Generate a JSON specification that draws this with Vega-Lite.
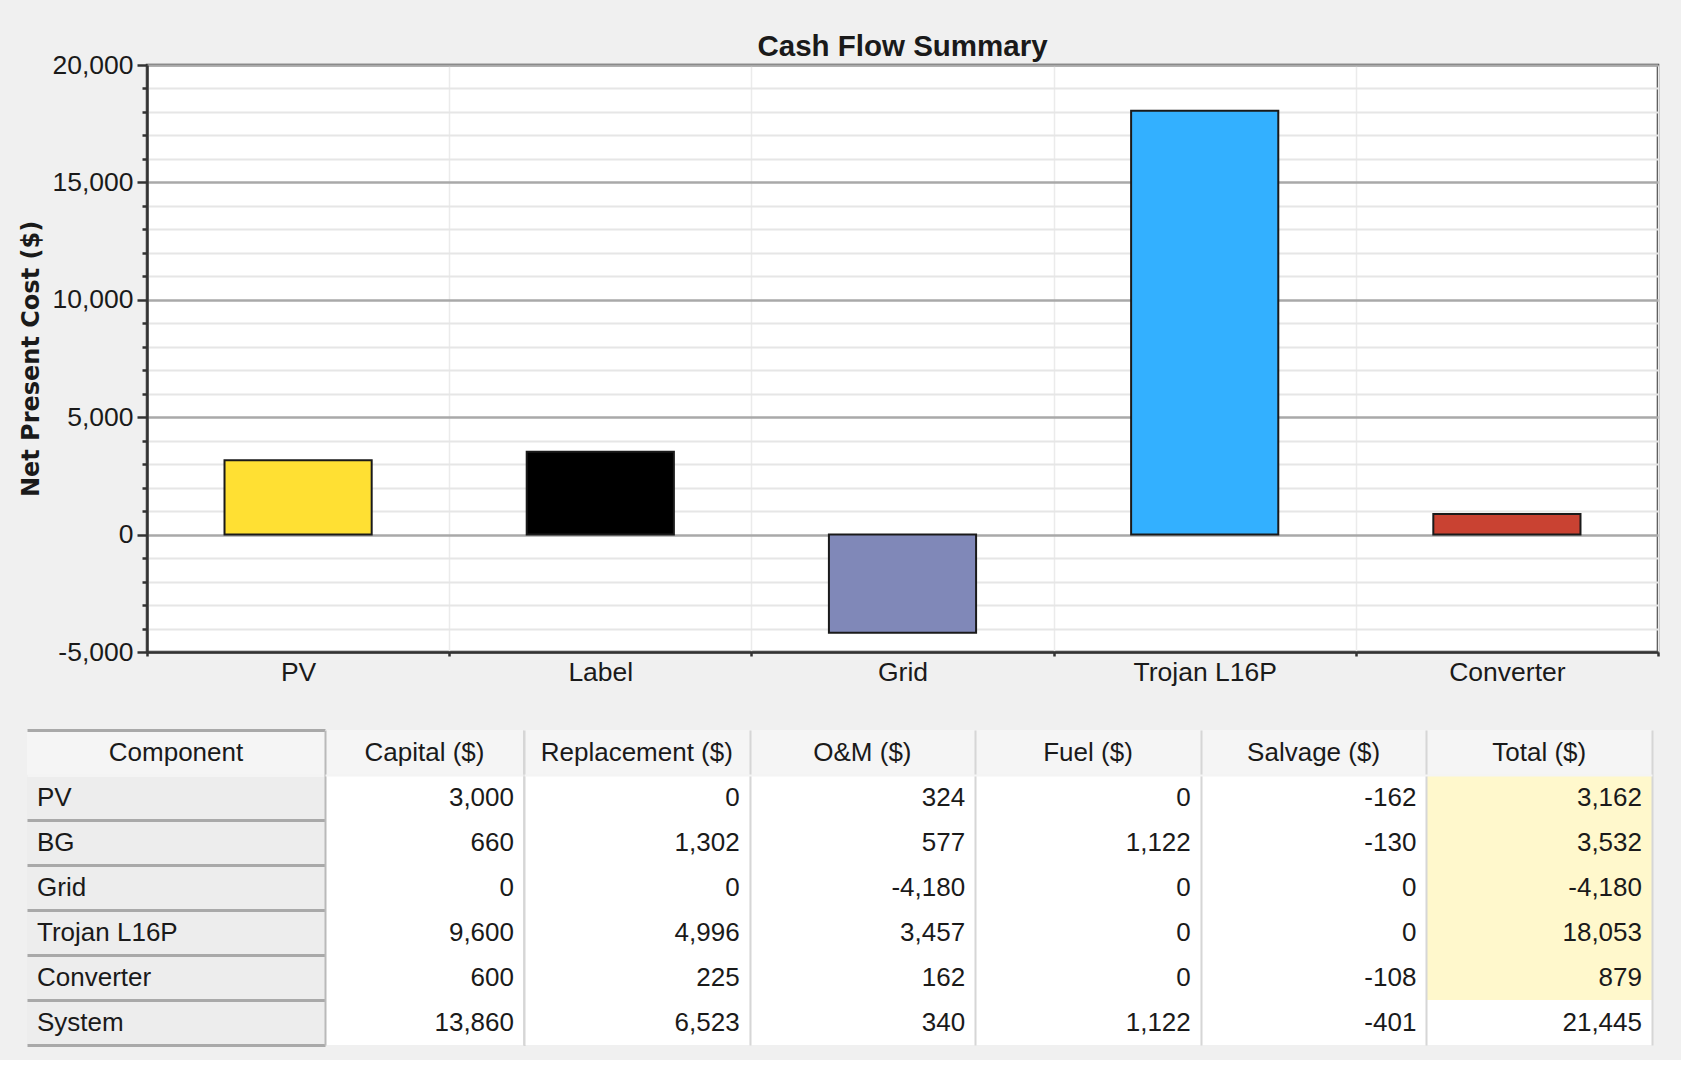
{
  "$schema": "https://vega.github.io/schema/vega-lite/v6.json",
  "background": "#f0f0f0",
  "padding": {"left": 18, "top": 30, "right": 20, "bottom": 15},
  "config": {
    "locale": {"number": {"decimal": ".", "thousands": ",", "grouping": [3], "currency": ["$", ""], "minus": "-"}},
    "font": "Liberation Sans, Arial, sans-serif"
  },
  "datasets": {
    "bars": [
      {"component": "PV", "npc": 3162},
      {"component": "Label", "npc": 3532},
      {"component": "Grid", "npc": -4180},
      {"component": "Trojan L16P", "npc": 18053},
      {"component": "Converter", "npc": 879}
    ],
    "table": [
      {"Component": "PV", "Capital ($)": 3000, "Replacement ($)": 0, "O&M ($)": 324, "Fuel ($)": 0, "Salvage ($)": -162, "Total ($)": 3162},
      {"Component": "BG", "Capital ($)": 660, "Replacement ($)": 1302, "O&M ($)": 577, "Fuel ($)": 1122, "Salvage ($)": -130, "Total ($)": 3532},
      {"Component": "Grid", "Capital ($)": 0, "Replacement ($)": 0, "O&M ($)": -4180, "Fuel ($)": 0, "Salvage ($)": 0, "Total ($)": -4180},
      {"Component": "Trojan L16P", "Capital ($)": 9600, "Replacement ($)": 4996, "O&M ($)": 3457, "Fuel ($)": 0, "Salvage ($)": 0, "Total ($)": 18053},
      {"Component": "Converter", "Capital ($)": 600, "Replacement ($)": 225, "O&M ($)": 162, "Fuel ($)": 0, "Salvage ($)": -108, "Total ($)": 879},
      {"Component": "System", "Capital ($)": 13860, "Replacement ($)": 6523, "O&M ($)": 340, "Fuel ($)": 1122, "Salvage ($)": -401, "Total ($)": 21445}
    ]
  },
  "spacing": 43,
  "vconcat": [
    {
      "spacing": -10,
      "hconcat": [
        {
          "width": 1, "height": 1,
          "view": {"fill": "#f0f0f0", "stroke": null},
          "data": {"values": []},
          "mark": "point"
        },
        {
          "width": 1511,
          "height": 587,
          "title": {"text": "Cash Flow Summary", "fontSize": 29.5, "fontWeight": "bold", "color": "#1a1a1a", "offset": -10, "frame": "group"},
          "view": {"fill": "white", "stroke": "#333333", "strokeWidth": 2.5},
          "data": {"name": "bars"},
          "mark": {"type": "bar", "stroke": "#1a1a1a", "strokeWidth": 2, "width": {"band": 0.487}},
          "encoding": {
            "x": {
              "field": "component", "type": "nominal", "sort": null,
              "scale": {"paddingInner": 0, "paddingOuter": 0},
              "axis": {"title": null, "labelAngle": 0, "labelFontSize": 26.5, "labelColor": "#1a1a1a", "labelPadding": 3,
                       "tickBand": "extent", "tickSize": 4, "tickColor": "#333333", "tickWidth": 2.5,
                       "domainColor": "#333333", "domainWidth": 2.5,
                       "grid": true, "gridColor": "#ebebeb", "gridWidth": 1.5}
            },
            "y": {
              "field": "npc", "type": "quantitative",
              "scale": {"domain": [-5000, 20000], "nice": false},
              "axis": {
                "title": "Net Present Cost ($)", "titleFont": "DejaVu Sans", "titleFontSize": 24, "titleFontWeight": "bold",
                "titleColor": "#1a1a1a", "titlePadding": 8,
                "values": [-5000, -4000, -3000, -2000, -1000, 0, 1000, 2000, 3000, 4000, 5000, 6000, 7000, 8000, 9000, 10000, 11000, 12000, 13000, 14000, 15000, 16000, 17000, 18000, 19000, 20000],
                "format": ",d",
                "labelExpr": "datum.value % 5000 === 0 ? datum.label : ''",
                "labelFontSize": 26.5, "labelColor": "#1a1a1a", "labelPadding": 4, "labelOverlap": false,
                "tickColor": "#333333", "tickWidth": 2.5,
                "tickSize": {"condition": {"test": "datum.value % 5000 === 0", "value": 10}, "value": 5},
                "domainColor": "#333333", "domainWidth": 2.5,
                "grid": true,
                "gridColor": {"condition": {"test": "datum.value % 5000 === 0", "value": "#a9a9a9"}, "value": "#e6e6e6"},
                "gridWidth": {"condition": {"test": "datum.value % 5000 === 0", "value": 2.5}, "value": 2}
              }
            },
            "color": {
              "field": "component", "type": "nominal",
              "scale": {"domain": ["PV", "Label", "Grid", "Trojan L16P", "Converter"],
                        "range": ["#ffe033", "#000000", "#8088b8", "#33b0ff", "#c94232"]},
              "legend": null
            }
          }
        }
      ]
    },
    {
      "spacing": 0,
      "hconcat": [
        {
          "width": 298,
          "height": 315,
          "view": {"stroke": null},
          "data": {"name": "table"},
          "transform": [{"fold": ["Component"], "as": ["col", "name"]}],
          "encoding": {
            "x": {"field": "col", "type": "nominal", "scale": {"paddingInner": 0, "paddingOuter": 0}, "axis": null},
            "y": {"field": "Component", "type": "nominal",
                  "scale": {"domain": ["header", "PV", "BG", "Grid", "Trojan L16P", "Converter", "System"], "paddingInner": 0, "paddingOuter": 0},
                  "axis": {"title": null, "tickBand": "extent", "grid": true, "ticks": false, "labels": false, "domain": false,
                           "minExtent": 0, "maxExtent": 0, "zindex": 1,
                           "gridColor": {"condition": {"test": "datum.value === 'header'", "value": "#f4f4f4"}, "value": "#a9a9a9"},
                           "gridWidth": 3}}
          },
          "layer": [
            {"mark": {"type": "rect", "color": "#ededed"}},
            {"mark": {"type": "text", "align": "left", "dx": 10, "fontSize": 26, "color": "#1a1a1a"},
             "encoding": {"x": {"field": "col", "type": "nominal", "bandPosition": 0}, "text": {"field": "name"}}},
            {"transform": [{"filter": "datum.Component === 'PV'"}],
             "mark": {"type": "rect", "color": "#f5f5f5"},
             "encoding": {"y": {"datum": "header"}}},
            {"transform": [{"filter": "datum.Component === 'PV'"}],
             "mark": {"type": "text", "align": "center", "fontSize": 26, "color": "#1a1a1a"},
             "encoding": {"y": {"datum": "header"}, "text": {"field": "col"}}}
          ]
        },
        {
          "width": 199,
          "height": 315,
          "view": {"stroke": null},
          "data": {"name": "table"},
          "transform": [{"fold": ["Capital ($)"], "as": ["col", "val"]}],
          "encoding": {
            "x": {"field": "col", "type": "nominal",
                  "scale": {"domain": ["Capital ($)"], "paddingInner": 0, "paddingOuter": 0},
                  "axis": {"title": null, "orient": "bottom", "tickBand": "extent", "grid": true, "ticks": false, "labels": false, "domain": false,
                           "minExtent": 0, "maxExtent": 0, "zindex": 1, "gridColor": "#b9b9b9", "gridWidth": 2}},
            "y": {"field": "Component", "type": "nominal",
                  "scale": {"domain": ["header", "PV", "BG", "Grid", "Trojan L16P", "Converter", "System"], "paddingInner": 0, "paddingOuter": 0},
                  "axis": {"title": null, "tickBand": "extent", "grid": true, "ticks": false, "labels": false, "domain": false,
                           "minExtent": 0, "maxExtent": 0, "zindex": 1,
                           "gridColor": {"condition": {"test": "datum.value === 'header'", "value": "#f4f4f4"}, "value": {"expr": "datum.value === 'PV' ? '#bcbcbc' : '#dddddd'"}},
                           "gridWidth": {"condition": {"test": "datum.value === 'PV'", "value": 3}, "value": 2}}}
          },
          "layer": [
            {"mark": {"type": "rect", "color": "#ffffff"}},
            {"mark": {"type": "text", "align": "right", "dx": -10, "fontSize": 26, "color": "#1a1a1a"},
             "encoding": {"x": {"field": "col", "type": "nominal", "bandPosition": 1}, "text": {"field": "val", "type": "quantitative", "format": ",d"}}},
            {"transform": [{"filter": "datum.Component === 'PV'"}],
             "mark": {"type": "rect", "color": "#f5f5f5"},
             "encoding": {"y": {"datum": "header"}}},
            {"transform": [{"filter": "datum.Component === 'PV'"}],
             "mark": {"type": "text", "align": "center", "fontSize": 26, "color": "#1a1a1a"},
             "encoding": {"y": {"datum": "header"}, "text": {"field": "col"}}}
          ]
        },
        {
          "width": 1128,
          "height": 315,
          "view": {"stroke": null},
          "data": {"name": "table"},
          "transform": [{"fold": ["Replacement ($)", "O&M ($)", "Fuel ($)", "Salvage ($)", "Total ($)"], "as": ["col", "val"]}],
          "encoding": {
            "x": {"field": "col", "type": "nominal",
                  "scale": {"domain": ["Replacement ($)", "O&M ($)", "Fuel ($)", "Salvage ($)", "Total ($)"], "paddingInner": 0, "paddingOuter": 0},
                  "axis": {"title": null, "orient": "bottom", "tickBand": "extent", "grid": true, "ticks": false, "labels": false, "domain": false,
                           "minExtent": 0, "maxExtent": 0, "zindex": 1, "gridColor": "#d6d6d6", "gridWidth": 2}},
            "y": {"field": "Component", "type": "nominal",
                  "scale": {"domain": ["header", "PV", "BG", "Grid", "Trojan L16P", "Converter", "System"], "paddingInner": 0, "paddingOuter": 0},
                  "axis": {"title": null, "tickBand": "extent", "grid": true, "ticks": false, "labels": false, "domain": false,
                           "minExtent": 0, "maxExtent": 0, "zindex": 1,
                           "gridColor": {"condition": {"test": "datum.value === 'header'", "value": "#f4f4f4"}, "value": {"expr": "datum.value === 'PV' ? '#bcbcbc' : '#dddddd'"}},
                           "gridWidth": {"condition": {"test": "datum.value === 'PV'", "value": 3}, "value": 2}}}
          },
          "layer": [
            {"mark": {"type": "rect"},
             "encoding": {"color": {"condition": {"test": "datum.col === 'Total ($)' && datum.Component !== 'System'", "value": "#fff8cc"}, "value": "#ffffff"}}},
            {"mark": {"type": "text", "align": "right", "dx": -10, "fontSize": 26, "color": "#1a1a1a"},
             "encoding": {"x": {"field": "col", "type": "nominal", "bandPosition": 1}, "text": {"field": "val", "type": "quantitative", "format": ",d"}}},
            {"transform": [{"filter": "datum.Component === 'PV'"}],
             "mark": {"type": "rect", "color": "#f5f5f5"},
             "encoding": {"y": {"datum": "header"}}},
            {"transform": [{"filter": "datum.Component === 'PV'"}],
             "mark": {"type": "text", "align": "center", "fontSize": 26, "color": "#1a1a1a"},
             "encoding": {"y": {"datum": "header"}, "text": {"field": "col"}}}
          ]
        }
      ]
    }
  ]
}
